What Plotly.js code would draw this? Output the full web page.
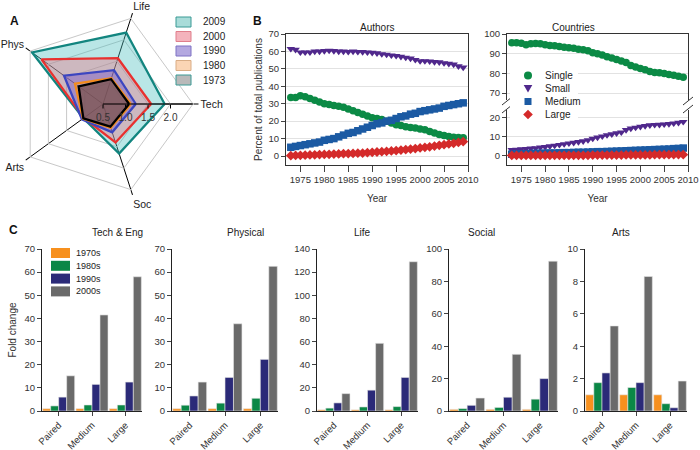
<!DOCTYPE html>
<html>
<head>
<meta charset="utf-8">
<script src="https://cdn.plot.ly/plotly-3.0.1.min.js"></script>
<style>html,body{margin:0;padding:0;background:#fff;}#chart{width:700px;height:450px;}</style>
</head>
<body>
<div id="chart"></div>
<script>
// ---------- Panel A data (radar) ----------
var radarAxes = ['Tech', 'Life', 'Phys', 'Arts', 'Soc'];
var radarYears = ['2009', '2000', '1990', '1980', '1973'];
var radar2009 = [1.87, 2.17, 2.45, 1.04, 1.66];
var radar2000 = [1.57, 1.57, 2.19, 1.03, 1.40];
var radar1990 = [1.23, 1.29, 1.57, 1.08, 1.16];
var radar1980 = [1.12, 1.10, 1.27, 1.05, 1.06];
var radar1973 = [1.08, 1.08, 1.17, 1.04, 1.03];

// ---------- Panel B data ----------
var years = [1973,1974,1975,1976,1977,1978,1979,1980,1981,1982,1983,1984,1985,1986,1987,1988,1989,1990,1991,1992,1993,1994,1995,1996,1997,1998,1999,2000,2001,2002,2003,2004,2005,2006,2007,2008,2009];
var yearTicks = [1975,1980,1985,1990,1995,2000,2005,2010];
var teamSizes = ['Single', 'Small', 'Medium', 'Large'];
var authSingle = [33.5,33.5,34.5,34,33,32,31,30,29.5,29,28.5,28,27,26,25,24,23,22,21.5,21,20,19,18,17.5,16.8,16.3,16,15.5,15,14,13.2,12.3,11.8,11.2,10.8,10.6,10.5];
var authSmall = [61.5,61,59.5,59.5,59.5,60,60,60.3,60.5,60.3,60,60,59.8,60,59.8,59.7,59.5,59.3,59,58.5,58.2,57.8,57.5,57,56.5,56,55.2,54.5,54.5,54.3,54,53.8,53.3,53,52.5,51.5,50.8];
var authMedium = [5,5.5,6,6.5,7,7.5,8,9,9.5,10,11,12,13,13.5,14.5,15.5,16.5,17.5,18.5,19,20,20.5,21.5,22.5,23,24,24.5,25.5,26,26.5,27,27.5,28.5,29,29.5,30,30.5];
var authLarge = [0.2,0.3,0.4,0.5,0.6,0.7,0.8,0.9,1.0,1.1,1.2,1.3,1.4,1.5,1.6,1.7,1.9,2.1,2.3,2.5,2.7,2.9,3.1,3.4,3.7,4.0,4.3,4.6,5.0,5.3,5.7,6.1,6.5,6.9,7.3,7.8,8.3];
var ctrySingle = [95.5,95.5,95.3,94.5,95,95.2,95,94.5,94.2,94,93.7,93.3,93,92.8,92.3,92,91.5,90.5,90,89.3,88.5,87.8,87,86.3,85.5,84,83.2,82.5,81.8,81,80.5,80.3,80,79.5,79,78.5,78];
var ctrySmall = [3,3.2,3.4,3.6,3.8,4.0,4.3,4.6,5.0,5.3,5.7,6.1,6.5,6.8,7.2,7.6,8.2,9.0,9.6,10.2,10.8,11.3,11.8,12.3,13.5,14.3,14.8,15.2,15.6,16,16.2,16.3,16.5,16.7,17,17.3,17.8];
var ctryMedium = [0.8,0.9,1.0,1.0,1.1,1.2,1.2,1.3,1.4,1.4,1.5,1.6,1.6,1.7,1.8,1.8,1.9,2.0,2.1,2.1,2.2,2.3,2.4,2.5,2.6,2.7,2.8,2.9,3.0,3.1,3.2,3.3,3.4,3.5,3.7,3.8,4.0];
var ctryLarge = [0.1,0.1,0.1,0.1,0.1,0.1,0.1,0.1,0.1,0.2,0.2,0.2,0.2,0.2,0.2,0.2,0.2,0.3,0.3,0.3,0.3,0.3,0.3,0.3,0.4,0.4,0.4,0.4,0.4,0.4,0.5,0.5,0.5,0.5,0.5,0.6,0.6];

// ---------- Panel C data ----------
var collabTypes = ['Paired', 'Medium', 'Large'];
var decades = ['1970s', '1980s', '1990s', '2000s'];
var fieldNames = ['Tech & Eng', 'Physical', 'Life', 'Social', 'Arts'];
var techEng = { '1970s': [1, 1, 1], '1980s': [2.2, 2.6, 2.6], '1990s': [6.0, 11.5, 12.5], '2000s': [15.2, 41.5, 58] };
var physical = { '1970s': [1, 1, 1], '1980s': [2.5, 3.4, 5.5], '1990s': [6.5, 14.5, 22.3], '2000s': [12.5, 37.7, 62.5] };
var life = { '1970s': [1, 1, 1], '1980s': [2.5, 3.5, 3.8], '1990s': [7, 18, 29], '2000s': [15, 58.5, 129] };
var social = { '1970s': [1, 1, 1], '1980s': [1.5, 2.2, 7.3], '1990s': [3.5, 8.5, 20], '2000s': [8, 35, 92.5] };
var arts = { '1970s': [1, 1, 1], '1980s': [1.75, 1.45, 0.45], '1990s': [2.35, 1.75, 0.2], '2000s': [5.25, 8.3, 1.85] };
var fieldData = [techEng, physical, life, social, arts];
var fieldYMax = [70, 70, 140, 100, 10];
var fieldDtick = [10, 10, 20, 20, 2];

// ---------- styles ----------
var radarLine = {'2009': '#12857f', '2000': '#e8312f', '1990': '#3c46c0', '1980': '#f28c1e', '1973': '#000000'};
var radarFill = {'2009': 'rgba(70,190,190,0.38)', '2000': 'rgba(240,110,130,0.38)', '1990': 'rgba(110,80,200,0.42)', '1980': 'rgba(250,190,140,0.40)', '1973': 'rgba(80,45,50,0.55)'};
var radarKeyFill = {'2009': '#a9dcd9', '2000': '#f4b3bc', '1990': '#b3a8e0', '1980': '#fbd5b5', '1973': '#b9b9b9'};
var radarKeyLine = {'2009': '#3a9a95', '2000': '#e07f8c', '1990': '#7e72c4', '1980': '#d9ad86', '1973': '#3a9a95'};
var sizeColor = {Single: '#0b8a45', Small: '#50288c', Medium: '#1b5aa3', Large: '#d42a2a'};
var sizeSymbol = {Single: 'circle', Small: 'triangle-down', Medium: 'square', Large: 'diamond'};
var decadeColor = {'1970s': '#f7901e', '1980s': '#0b8746', '1990s': '#2b2a78', '2000s': '#6a6a6a'};

var W = 700, H = 450;
function px(x) { return x / W; }
function py(y) { return 1 - y / H; }

var traces = [];

// Panel A
var radarVals = {'2009': radar2009, '2000': radar2000, '1990': radar1990, '1980': radar1980, '1973': radar1973};
radarYears.forEach(function (yr) {
  var r = radarVals[yr].concat([radarVals[yr][0]]);
  var th = radarAxes.concat([radarAxes[0]]);
  traces.push({
    type: 'scatterpolar', r: r, theta: th, name: yr, fill: 'toself',
    fillcolor: radarFill[yr], line: {color: radarLine[yr], width: 2.3}, mode: 'lines',
    showlegend: false, hoverinfo: 'skip'
  });
});

// Panel B
var authSeries = {Single: authSingle, Small: authSmall, Medium: authMedium, Large: authLarge};
var ctrySeries = {Single: ctrySingle, Small: ctrySmall, Medium: ctryMedium, Large: ctryLarge};
teamSizes.forEach(function (s) {
  traces.push({
    type: 'scatter', mode: 'markers', x: years, y: authSeries[s], xaxis: 'x', yaxis: 'y',
    name: s, showlegend: false,
    marker: {symbol: sizeSymbol[s], color: sizeColor[s], size: 7.5, line: {width: 0}}
  });
});
teamSizes.forEach(function (s) {
  traces.push({
    type: 'scatter', mode: 'markers', x: years, y: ctrySeries[s],
    xaxis: s === 'Single' ? 'x3' : 'x2', yaxis: s === 'Single' ? 'y3' : 'y2',
    name: s, showlegend: false,
    marker: {symbol: sizeSymbol[s], color: sizeColor[s], size: 7.5, line: {width: 0}}
  });
});

// Panel C
fieldData.forEach(function (fd, i) {
  var ax = i + 4;
  decades.forEach(function (d) {
    traces.push({
      type: 'bar', x: collabTypes, y: fd[d], name: d,
      xaxis: 'x' + ax, yaxis: 'y' + ax,
      marker: {color: decadeColor[d], line: {color: '#e6e6e6', width: 0.6}},
      showlegend: false
    });
  });
});

var tickFont = {size: 9.5, color: '#333'};

var layout = {
  width: W, height: H,
  margin: {l: 0, r: 0, t: 0, b: 0},
  paper_bgcolor: 'white', plot_bgcolor: 'rgba(0,0,0,0)',
  font: {family: 'Liberation Sans, Arial, sans-serif', size: 10, color: '#333'},
  showlegend: false,
  barmode: 'group', bargap: 0.04, bargroupgap: 0,
  polar: {
    domain: {x: [px(13), px(193)], y: [py(194), py(14)]},
    bgcolor: 'rgba(0,0,0,0)',
    gridshape: 'linear',
    radialaxis: {
      range: [0.5, 2.5], tickvals: [0.5, 1, 1.5, 2], ticktext: ['0.5', '1.0', '1.5', '2.0'],
      angle: 0, showline: true, linecolor: '#000', linewidth: 1,
      ticks: 'outside', ticklen: 4, tickcolor: '#000', gridcolor: '#c8c8c8',
      tickfont: {size: 10, color: '#333'}, side: 'clockwise', layer: 'above traces'
    },
    angularaxis: {
      type: 'category', categoryarray: radarAxes, rotation: 0, direction: 'counterclockwise',
      showline: true, linecolor: '#c8c8c8', gridcolor: '#000', gridwidth: 1,
      ticks: 'outside', ticklen: 5, tickcolor: '#000', tickfont: {size: 10.5, color: '#222'}
    }
  },
  // Authors
  xaxis: {
    domain: [px(286), px(468)], anchor: 'y', range: [1972, 2010], tickvals: yearTicks,
    ticks: 'outside', ticklen: 6, showline: true, mirror: true, linecolor: '#333', showgrid: false,
    zeroline: false, tickfont: tickFont, title: {text: 'Year', font: {size: 10}, standoff: 10}
  },
  yaxis: {
    domain: [py(165), py(34)], anchor: 'x', range: [-5.16, 70], tick0: 0, dtick: 10,
    ticks: 'outside', ticklen: 4, showline: true, mirror: true, linecolor: '#333',
    showgrid: true, gridcolor: '#e2e2e2', zeroline: false, tickfont: tickFont,
    title: {text: 'Percent of total publications', font: {size: 10}, standoff: 4}
  },
  // Countries bottom
  xaxis2: {
    domain: [px(507), px(688)], anchor: 'y2', range: [1972, 2010], tickvals: yearTicks,
    ticks: 'outside', ticklen: 6, showline: true, mirror: false, linecolor: '#333', showgrid: false,
    zeroline: false, tickfont: tickFont, title: {text: 'Year', font: {size: 10}, standoff: 10}
  },
  yaxis2: {
    domain: [py(165), py(110)], anchor: 'x2', range: [-4.9, 24], tickvals: [0, 10, 20],
    ticks: 'outside', ticklen: 4, showline: true, mirror: true, linecolor: '#333',
    showgrid: true, gridcolor: '#e2e2e2', zeroline: false, tickfont: tickFont
  },
  // Countries top
  xaxis3: {
    domain: [px(507), px(688)], anchor: 'y3', range: [1972, 2010], side: 'top',
    showline: true, linecolor: '#333', showticklabels: false, ticks: '', showgrid: false, zeroline: false
  },
  yaxis3: {
    domain: [py(100), py(34)], anchor: 'x3', range: [66.5, 100], tickvals: [70, 80, 90, 100],
    ticks: 'outside', ticklen: 4, showline: true, mirror: true, linecolor: '#333',
    showgrid: true, gridcolor: '#e2e2e2', zeroline: false, tickfont: tickFont
  },
  annotations: [],
  shapes: []
};

var cDomains = [[42, 142], [172, 278], [317, 418], [449, 558], [585, 687]];
var cTitleX = [90, 225, 362, 497, 632];
cDomains.forEach(function (d, i) {
  var ax = i + 4;
  layout['xaxis' + ax] = {
    domain: [px(d[0]), px(d[1])], anchor: 'y' + ax, type: 'category', categoryarray: collabTypes,
    range: [-0.5, 2.5], showline: true, linecolor: '#222', ticks: 'outside', ticklen: 4,
    tickangle: -45, tickfont: {size: 9.5, color: '#333'}, showgrid: false, zeroline: false
  };
  layout['yaxis' + ax] = {
    domain: [py(411), py(249)], anchor: 'x' + ax, range: [0, fieldYMax[i]], tick0: 0, dtick: fieldDtick[i],
    showline: true, linecolor: '#222', ticks: 'outside', ticklen: 4, showgrid: false, zeroline: false,
    tickfont: {size: 9.5, color: '#333'}
  };
  layout.annotations.push({
    text: fieldNames[i], x: px(cTitleX[i]), y: py(232), xref: 'paper', yref: 'paper',
    showarrow: false, font: {size: 10, color: '#222'}
  });
});
layout.yaxis4.title = {text: 'Fold change', font: {size: 10}, standoff: 6};

layout.annotations.push(
  {text: 'Authors', x: px(377), y: py(20), xref: 'paper', yref: 'paper', showarrow: false, font: {size: 10, color: '#222'}},
  {text: 'Countries', x: px(597), y: py(20), xref: 'paper', yref: 'paper', showarrow: false, font: {size: 10, color: '#222'}},
  {text: '<b>A</b>', x: px(8), y: py(12), xref: 'paper', yref: 'paper', showarrow: false, font: {size: 12, color: '#111'}},
  {text: '<b>B</b>', x: px(257), y: py(12), xref: 'paper', yref: 'paper', showarrow: false, font: {size: 12, color: '#111'}},
  {text: '<b>C</b>', x: px(7), y: py(230), xref: 'paper', yref: 'paper', showarrow: false, font: {size: 12, color: '#111'}}
);

// axis-break marks on the Countries panel
[507, 688].forEach(function (xx) {
  layout.shapes.push(
    {type: 'line', xref: 'paper', yref: 'paper', x0: px(xx - 5), y0: py(105), x1: px(xx + 5), y1: py(97), line: {color: '#333', width: 1}},
    {type: 'line', xref: 'paper', yref: 'paper', x0: px(xx - 5), y0: py(113), x1: px(xx + 5), y1: py(105), line: {color: '#333', width: 1}}
  );
});

// ---------- compact keys (legends) ----------
function keyText(t, x, y, size) {
  layout.annotations.push({text: t, x: px(x), y: py(y), xref: 'paper', yref: 'paper', xanchor: 'left', yanchor: 'middle',
    showarrow: false, font: {size: size, color: '#222'}});
}
function keyRect(x0, y0, x1, y1, fill, line, lw) {
  layout.shapes.push({type: 'rect', xref: 'paper', yref: 'paper', x0: px(x0), y0: py(y1), x1: px(x1), y1: py(y0),
    fillcolor: fill, line: {color: line, width: lw}, layer: 'above'});
}
function pathP(pts) {
  return 'M ' + pts.map(function (p) { return px(p[0]) + ',' + py(p[1]); }).join(' L ') + ' Z';
}
// Panel A key
radarYears.forEach(function (yr, k) {
  var yc = 22 + k * 14.5;
  keyRect(176, yc - 5, 191, yc + 5, radarKeyFill[yr], radarKeyLine[yr], 1);
  keyText(yr, 201, yc, 10);
});
// Panel B key (white box)
keyRect(510, 68, 578, 120, 'white', 'rgba(0,0,0,0)', 0);
teamSizes.forEach(function (s, k) {
  var yc = 75.5 + k * 13;
  var xc = 528, r = 4;
  var col = sizeColor[s];
  if (s === 'Single') {
    layout.shapes.push({type: 'circle', xref: 'paper', yref: 'paper', x0: px(xc - r), x1: px(xc + r), y0: py(yc + r), y1: py(yc - r),
      fillcolor: col, line: {width: 0}, layer: 'above'});
  } else if (s === 'Small') {
    layout.shapes.push({type: 'path', xref: 'paper', yref: 'paper', path: pathP([[xc - 4.3, yc - 3.5], [xc + 4.3, yc - 3.5], [xc, yc + 4]]),
      fillcolor: col, line: {width: 0}, layer: 'above'});
  } else if (s === 'Medium') {
    keyRect(xc - 3.5, yc - 3.5, xc + 3.5, yc + 3.5, col, 'rgba(0,0,0,0)', 0);
  } else {
    layout.shapes.push({type: 'path', xref: 'paper', yref: 'paper', path: pathP([[xc, yc - 4.8], [xc + 4.8, yc], [xc, yc + 4.8], [xc - 4.8, yc]]),
      fillcolor: col, line: {width: 0}, layer: 'above'});
  }
  keyText(s, 543, yc, 10);
});
// Panel C key
decades.forEach(function (d, k) {
  var yc = 253 + k * 12.8;
  keyRect(51, yc - 5, 70, yc + 5, decadeColor[d], 'rgba(0,0,0,0)', 0);
  keyText(d, 74, yc, 9);
});

Plotly.newPlot('chart', traces, layout, {displayModeBar: false, staticPlot: true});
</script>
</body>
</html>
